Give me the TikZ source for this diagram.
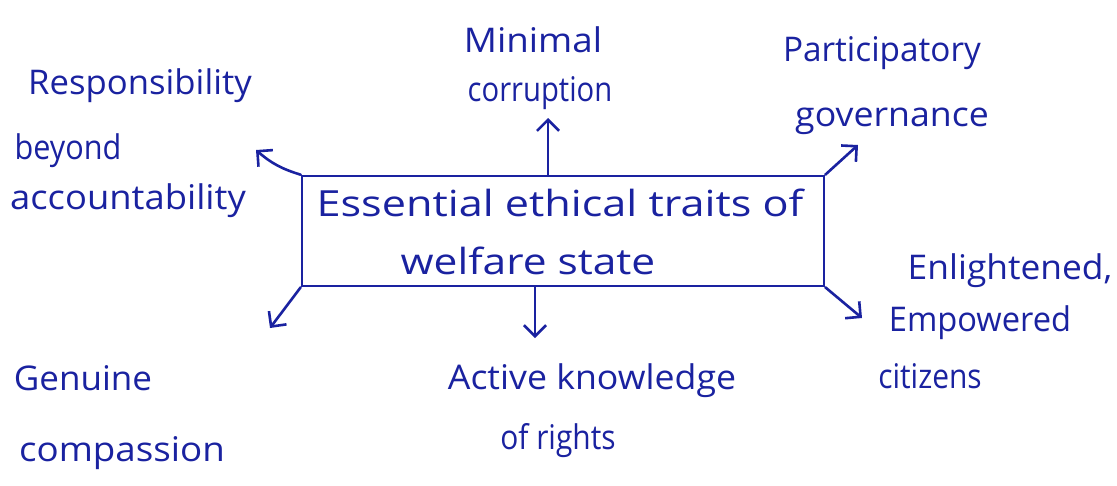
\documentclass[tikz,border=0pt]{standalone}
\usepackage{graphicx}
\usepackage{fontspec}
\setmainfont{Open Sans}
\usetikzlibrary{arrows.meta}
\definecolor{ink}{RGB}{26,34,160}
\newcommand{\hs}[2]{\scalebox{#1}[1]{#2}}
\begin{document}
\begin{tikzpicture}[x=1pt,y=-1pt,
  lbl/.style={text=ink, font=\fontsize{#1}{#1}\selectfont, inner sep=0pt, anchor=center},
  lbl/.default=34,
  arr/.style={draw=ink, line width=2.6pt, line cap=round, -{Straight Barb[length=11pt,width=22pt,line width=2.6pt]}}]
\useasboundingbox[fill=white] (0,0) rectangle (1117,485);
% central box
\node[draw=ink, line width=2.6pt, minimum width=522pt, minimum height=110pt, inner sep=0pt] (core) at (563,231) {};
\node[lbl=36] (t1) at (560,203) {\hs{1.2}{Essential ethical traits of}};
\node[lbl=36] (t2) at (528,261) {\hs{1.18}{welfare state}};
% labels
\node[lbl] (min1) at (533,40) {\hs{1.08}{Minimal}};
\node[lbl] (min2) at (540,93) {\hs{0.86}{corruption}};
\node[lbl] (res1) at (140,86) {\hs{1.02}{Responsibility}};
\node[lbl] (res2) at (68,151) {\hs{0.9}{beyond}};
\node[lbl] (res3) at (128,201) {\hs{1.07}{accountability}};
\node[lbl] (par1) at (882,53) {\hs{0.98}{Participatory}};
\node[lbl] (par2) at (892,121) {\hs{1.05}{governance}};
\node[lbl] (enl1) at (1010,271) {\hs{1.04}{Enlightened,}};
\node[lbl] (enl2) at (980,323) {\hs{0.96}{Empowered}};
\node[lbl] (enl3) at (930,376) {\hs{0.88}{citizens}};
\node[lbl] (gen1) at (83,378) {\hs{1.03}{Genuine}};
\node[lbl] (gen2) at (122,453) {\hs{1.08}{compassion}};
\node[lbl] (act1) at (592,381) {\hs{1.05}{Active knowledge}};
\node[lbl] (act2) at (558,441) {\hs{0.88}{of rights}};
% arrow ends
\coordinate (eU) at (548,118);
\coordinate (eUL) at (256,150);
\coordinate (eUR) at (858,145);
\coordinate (eDL) at (270,328);
\coordinate (eD) at (535,338);
\coordinate (eDR) at (862,318);
\draw[arr] (eU |- core.north) -- (eU);
\draw[arr] (core.north west) to[bend left=12] (eUL);
\draw[arr] (core.north east) -- (eUR);
\draw[arr] (core.south west) -- (eDL);
\draw[arr] (eD |- core.south) -- (eD);
\draw[arr] (core.south east) -- (eDR);
\end{tikzpicture}
\end{document}
